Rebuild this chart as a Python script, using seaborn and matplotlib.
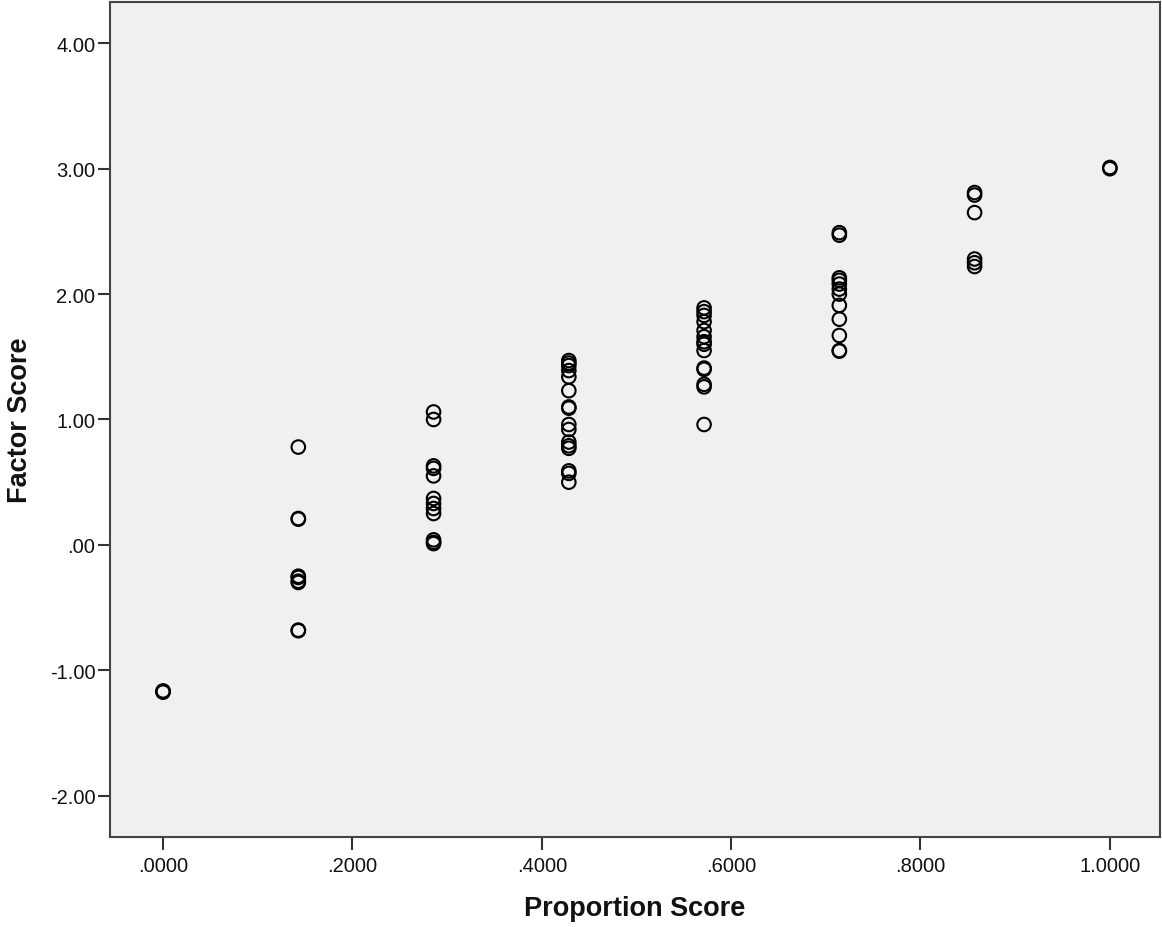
import numpy as np
import pandas as pd
import seaborn as sns
import matplotlib.pyplot as plt

# values, one list per proportion level
p0 = [-1.17, -1.165, -1.175]
p1 = [0.78, 0.21, 0.205, -0.25, -0.26, -0.30, -0.29, -0.68, -0.685]
p2 = [1.06, 1.00, 0.63, 0.61, 0.55, 0.37, 0.33, 0.29, 0.25, 0.04, 0.02, 0.01]
p3 = [1.47, 1.45, 1.43, 1.39, 1.34, 1.23, 1.10, 1.09, 0.96, 0.92,
      0.82, 0.79, 0.77, 0.59, 0.57, 0.50]
p4 = [1.89, 1.86, 1.83, 1.78, 1.71, 1.66, 1.62, 1.60, 1.55, 1.41, 1.40,
      1.28, 1.26, 0.96]
p5 = [2.49, 2.47, 2.13, 2.11, 2.08, 2.04, 2.00, 1.91, 1.80, 1.67, 1.55, 1.545]
p6 = [2.81, 2.79, 2.65, 2.28, 2.25, 2.22]
p7 = [3.01, 3.00]

levels = [0, 1/7, 2/7, 3/7, 4/7, 5/7, 6/7, 1.0]
groups = [p0, p1, p2, p3, p4, p5, p6, p7]

xticks = [0, 0.2, 0.4, 0.6, 0.8, 1.0]
xticklabels = [".0000", ".2000", ".4000", ".6000", ".8000", "1.0000"]
yticks = [-2, -1, 0, 1, 2, 3, 4]
yticklabels = ["-2.00", "-1.00", ".00", "1.00", "2.00", "3.00", "4.00"]

rows = []
for lv, ys in zip(levels, groups):
    for y in ys:
        rows.append((lv, y))
df = pd.DataFrame(rows, columns=["Proportion Score", "Factor Score"])

sns.set_style("ticks")
plt.rcParams['font.family'] = ['Liberation Sans', 'DejaVu Sans']

fig = plt.figure(figsize=(11.62, 9.28), dpi=100)
ax = fig.add_axes([0.0947, 0.097, 0.9036, 0.8998])
ax.set_facecolor("#f0f0f0")

sns.scatterplot(data=df, x="Proportion Score", y="Factor Score", ax=ax,
                marker="o", s=95, facecolor="none", edgecolor="black",
                linewidth=1.5)

ax.set_xlim(-0.056, 1.053)
ax.set_ylim(-2.33, 4.33)
ax.set_xticks(xticks)
ax.set_xticklabels(xticklabels, fontsize=14.5, color="#111111")
ax.set_yticks(yticks)
ax.set_yticklabels(yticklabels, fontsize=14.5, color="#111111")
ax.tick_params(direction="out", length=9, width=1.5, color="#333333")
ax.tick_params(axis="x", pad=5)
ax.tick_params(axis="y", pad=1.5)
for s in ax.spines.values():
    s.set_color("#444444")
    s.set_linewidth(1.5)

ax.set_xlabel("Proportion Score", fontsize=19.5, fontweight="bold",
              labelpad=14, color="#111111")
ax.set_ylabel("Factor Score", fontsize=19.5, fontweight="bold",
              labelpad=12, color="#111111")

fig.savefig("out.png", dpi=100)
